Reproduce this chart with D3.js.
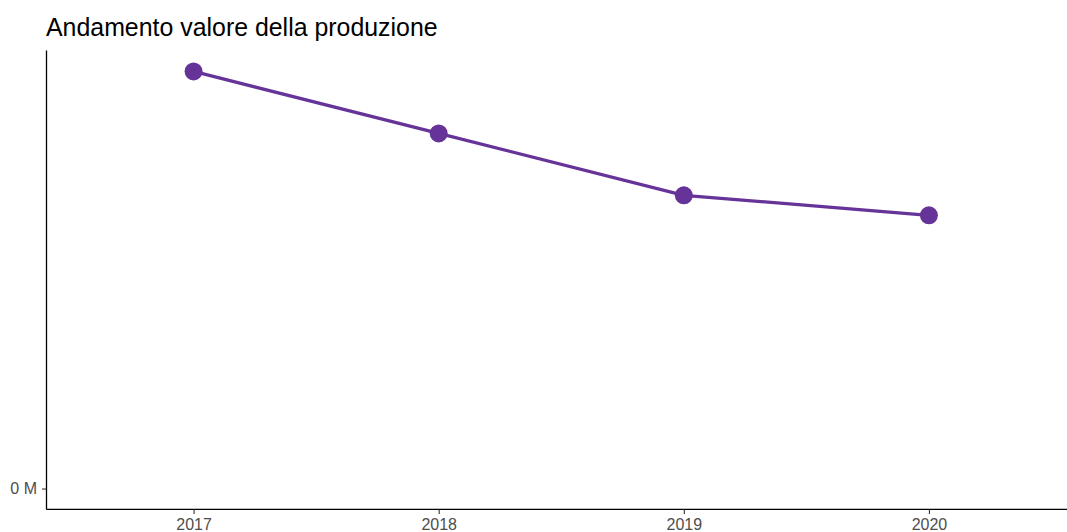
<!DOCTYPE html>
<html>
<head>
<meta charset="utf-8">
<script src="https://cdn.jsdelivr.net/npm/d3@7"></script>
<style>
  body { margin: 0; background: #fff; }
  text { font-family: "Liberation Sans", Arial, sans-serif; }
</style>
</head>
<body>
<div id="chart"></div>
<script>
var years = ["2017", "2018", "2019", "2020"];
var valori = [835000, 711000, 587000, 547000];
var yTicks = [0];

var svgWidth = 1067;
var svgHeight = 532;

var svg = d3.select("#chart")
  .append("svg")
  .attr("width", svgWidth)
  .attr("height", svgHeight);

// panel edges (ggplot-like layout)
var panelLeft = 46.5, panelRight = 1076, panelTop = 50.6, panelBottom = 509.4;

var x = d3.scalePoint()
  .domain(years)
  .range([panelLeft, panelRight])
  .padding(0.6);

var maxV = d3.max(valori);
var pad = 0.05 * maxV;
var y = d3.scaleLinear()
  .domain([0 - pad, maxV + pad])
  .range([panelBottom, panelTop]);

var data = years.map((d, i) => ({ year: d, value: valori[i] }));

// title
svg.append("text")
  .attr("x", 46)
  .attr("y", 36)
  .attr("font-size", 24.9)
  .attr("fill", "#000")
  .text("Andamento valore della produzione");

// line + points
var line = d3.line()
  .x(d => x(d.year))
  .y(d => y(d.value));

svg.append("path")
  .datum(data)
  .attr("d", line)
  .attr("fill", "none")
  .attr("stroke", "#663399")
  .attr("stroke-width", 3.3);

svg.selectAll("circle")
  .data(data)
  .enter()
  .append("circle")
  .attr("cx", d => x(d.year))
  .attr("cy", d => y(d.value))
  .attr("r", 9)
  .attr("fill", "#663399");

// axes
var xAxis = svg.append("g")
  .attr("transform", `translate(0, ${panelBottom})`)
  .call(d3.axisBottom(x).tickSize(4.5).tickPadding(4.5).tickSizeOuter(0));

var yAxis = svg.append("g")
  .attr("transform", `translate(${panelLeft}, 0)`)
  .call(d3.axisLeft(y).tickValues(yTicks).tickFormat(d => (d / 1e6).toFixed(0) + " M")
    .tickSize(4.5).tickPadding(5).tickSizeOuter(0));

[xAxis, yAxis].forEach(function(g) {
  g.select(".domain").attr("stroke", "#000").attr("stroke-width", 1.3);
  g.selectAll(".tick line").attr("stroke", "#333").attr("stroke-width", 1.1);
  g.selectAll(".tick text")
    .attr("fill", "#4d4d4d")
    .attr("font-size", 16)
    .style("font-family", "'Liberation Sans', Arial, sans-serif");
});

// axis lines span the full panel
yAxis.select(".domain").attr("d", `M0,${panelTop}V${panelBottom}`);
xAxis.select(".domain").attr("d", `M${panelLeft},0H${svgWidth}`);
</script>
</body>
</html>
